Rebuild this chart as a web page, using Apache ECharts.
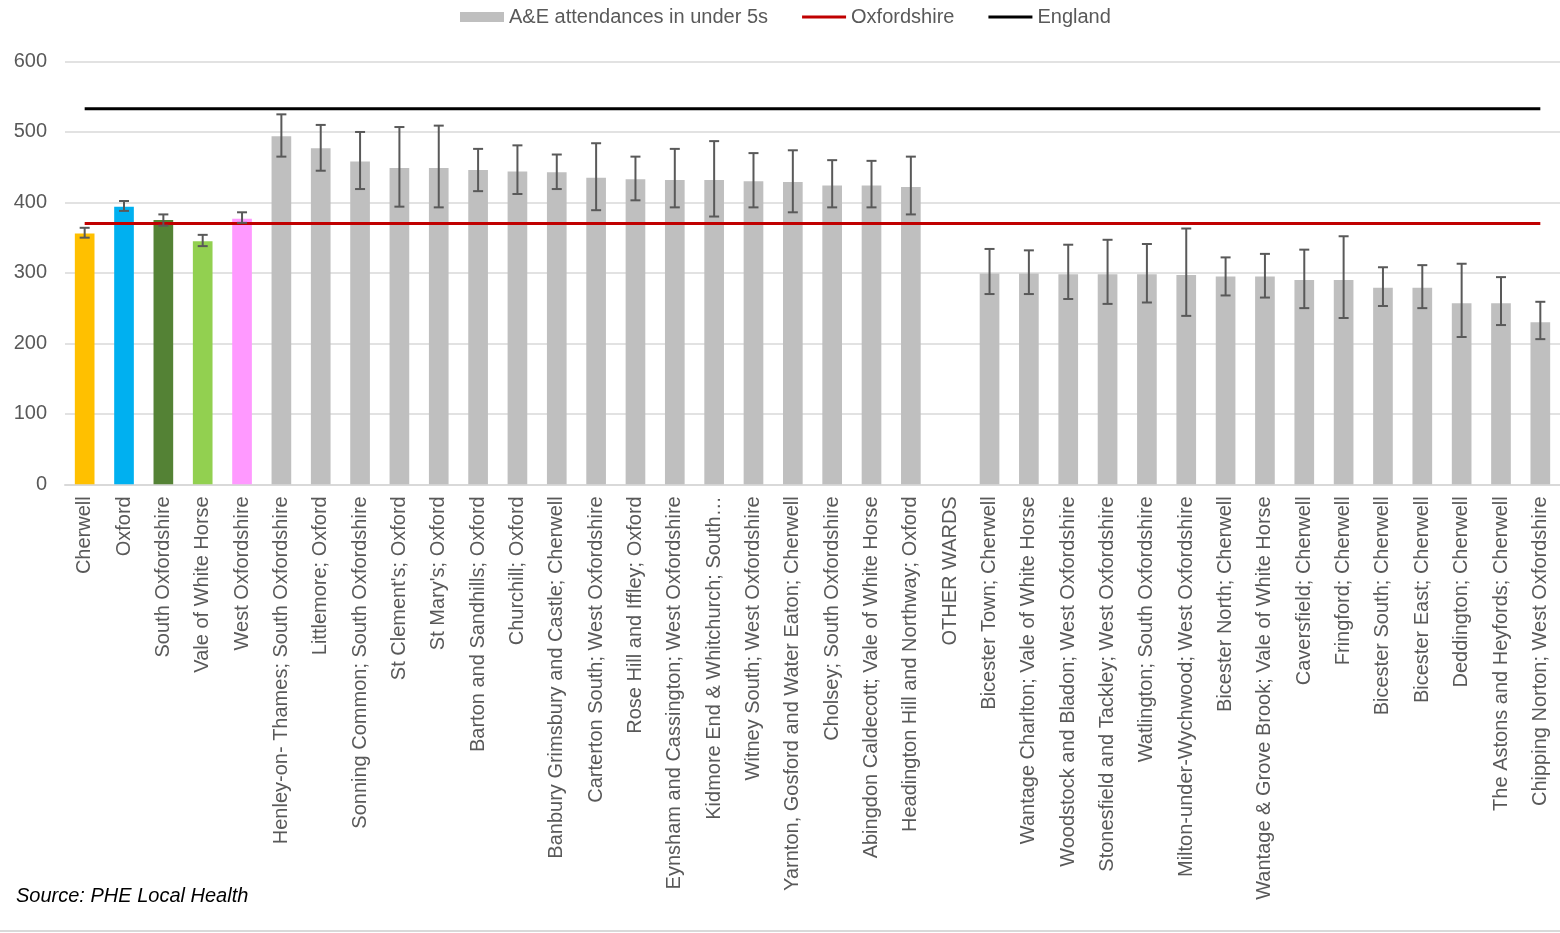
<!DOCTYPE html>
<html>
<head>
<meta charset="utf-8">
<title>A&amp;E attendances in under 5s</title>
<script src="https://cdn.jsdelivr.net/npm/echarts@6/dist/echarts.min.js"></script>
<style>
  html, body { margin: 0; padding: 0; background: #fff; }
  #chart { width: 1560px; height: 933px; }
</style>
</head>
<body>
<div id="chart"></div>
<script>
const categories = [
    "Cherwell", "Oxford", "South Oxfordshire", "Vale of White Horse", "West Oxfordshire",
    "Henley-on- Thames; South Oxfordshire", "Littlemore; Oxford", "Sonning Common; South Oxfordshire",
    "St Clement's; Oxford", "St Mary's; Oxford", "Barton and Sandhills; Oxford", "Churchill; Oxford",
    "Banbury Grimsbury and Castle; Cherwell", "Carterton South; West Oxfordshire",
    "Rose Hill and Iffley; Oxford", "Eynsham and Cassington; West Oxfordshire",
    "Kidmore End & Whitchurch; South…", "Witney South; West Oxfordshire",
    "Yarnton, Gosford and Water Eaton; Cherwell", "Cholsey; South Oxfordshire",
    "Abingdon Caldecott; Vale of White Horse", "Headington Hill and Northway; Oxford",
    "OTHER WARDS",
    "Bicester Town; Cherwell", "Wantage Charlton; Vale of White Horse",
    "Woodstock and Bladon; West Oxfordshire", "Stonesfield and Tackley; West Oxfordshire",
    "Watlington; South Oxfordshire", "Milton-under-Wychwood; West Oxfordshire",
    "Bicester North; Cherwell", "Wantage & Grove Brook; Vale of White Horse",
    "Caversfield; Cherwell", "Fringford; Cherwell", "Bicester South; Cherwell",
    "Bicester East; Cherwell", "Deddington; Cherwell", "The Astons and Heyfords; Cherwell",
    "Chipping Norton; West Oxfordshire"
];
const attendances = [356, 394, 375, 345, 377, 494, 477, 458, 449, 449, 446, 444, 443, 435, 433, 432, 432, 430, 429, 424, 424, 422, null,
    299, 299, 298, 298, 298, 297, 295, 295, 290, 290, 279, 279, 257, 257, 230];
const lowerCI = [350, 388, 367, 338, 371, 465, 445, 419, 394, 393, 416, 412, 419, 389, 403, 393, 380, 393, 386, 393, 393, 383, null,
    270, 270, 263, 256, 258, 239, 268, 265, 250, 236, 253, 250, 209, 226, 206];
const upperCI = [364, 402, 383, 354, 386, 525, 510, 500, 507, 509, 476, 481, 468, 484, 465, 476, 487, 470, 474, 460, 459, 465, null,
    334, 332, 340, 347, 341, 363, 322, 327, 333, 352, 308, 311, 313, 294, 259];
const oxfordshireValue = 370;
const englandValue = 533;
const yTicks = [0, 100, 200, 300, 400, 500, 600];

const districtColors = ["#FFC000", "#00B0F0", "#548235", "#92D050", "#FF99FF"];
const wardColor = "#BFBFBF";
const textColor = "#595959";
const font = "'Liberation Sans', Arial, sans-serif";
// thin bar used as the legend icon of the two reference lines
const lineIcon = "path://M0,0H44V3H0Z";

var myChart = echarts.init(document.getElementById("chart"));

var barData = attendances.map((v, i) => ({
    value: v,
    itemStyle: { color: i < districtColors.length ? districtColors[i] : wardColor }
}));
var errorData = [];
attendances.forEach((v, i) => {
    if (v !== null) errorData.push([i, lowerCI[i], upperCI[i]]);
});

var option = {
    animation: false,
    backgroundColor: "#fff",
    textStyle: { fontFamily: font },
    legend: {
        data: [
            { name: "A&E attendances in under 5s", icon: "rect" },
            { name: "Oxfordshire", icon: lineIcon },
            { name: "England", icon: lineIcon }
        ],
        left: 455,
        top: 2,
        itemWidth: 44,
        itemHeight: 10,
        itemGap: 34,
        textStyle: { color: textColor, fontSize: 20, fontFamily: font }
    },
    grid: {
        left: 65,
        right: 0,
        top: 61.5,
        bottom: 448.7
    },
    xAxis: {
        type: "category",
        data: categories,
        axisLine: { lineStyle: { color: "#D9D9D9", width: 2 } },
        axisTick: { show: false },
        axisLabel: {
            interval: 0,
            rotate: 90,
            margin: 12,
            color: textColor,
            fontSize: 20,
            fontFamily: font
        }
    },
    yAxis: {
        type: "value",
        min: yTicks[0],
        max: yTicks[yTicks.length - 1],
        interval: 100,
        axisLine: { show: false },
        axisTick: { show: false },
        axisLabel: { color: textColor, fontSize: 20, fontFamily: font, margin: 18 },
        splitLine: { lineStyle: { color: "#D9D9D9", width: 1.5 } }
    },
    series: [
        {
            name: "A&E attendances in under 5s",
            type: "bar",
            barWidth: "50%",
            itemStyle: { color: wardColor },
            data: barData
        },
        {
            name: "error",
            type: "custom",
            data: errorData,
            z: 5,
            renderItem: function (params, api) {
                var lo = api.coord([api.value(0), api.value(1)]);
                var hi = api.coord([api.value(0), api.value(2)]);
                var cap = 5;
                var style = { stroke: "#595959", lineWidth: 2, fill: null };
                return {
                    type: "group",
                    children: [
                        { type: "line", shape: { x1: hi[0], y1: hi[1], x2: lo[0], y2: lo[1] }, style: style },
                        { type: "line", shape: { x1: hi[0] - cap, y1: hi[1], x2: hi[0] + cap, y2: hi[1] }, style: style },
                        { type: "line", shape: { x1: lo[0] - cap, y1: lo[1], x2: lo[0] + cap, y2: lo[1] }, style: style }
                    ]
                };
            }
        },
        {
            name: "Oxfordshire",
            type: "line",
            symbol: "none",
            z: 4,
            lineStyle: { color: "#C00000", width: 3 },
            itemStyle: { color: "#C00000" },
            data: categories.map(() => oxfordshireValue)
        },
        {
            name: "England",
            type: "line",
            symbol: "none",
            lineStyle: { color: "#000000", width: 3 },
            itemStyle: { color: "#000000" },
            data: categories.map(() => englandValue)
        }
    ],
    graphic: [
        {
            type: "text",
            left: 16,
            top: 886,
            style: {
                text: "Source: PHE Local Health",
                fill: "#000",
                font: "italic 20px " + font
            }
        },
        {
            type: "line",
            shape: { x1: 0, y1: 931, x2: 1560, y2: 931 },
            style: { stroke: "#D9D9D9", lineWidth: 2 }
        }
    ]
};

myChart.setOption(option);
</script>
</body>
</html>
